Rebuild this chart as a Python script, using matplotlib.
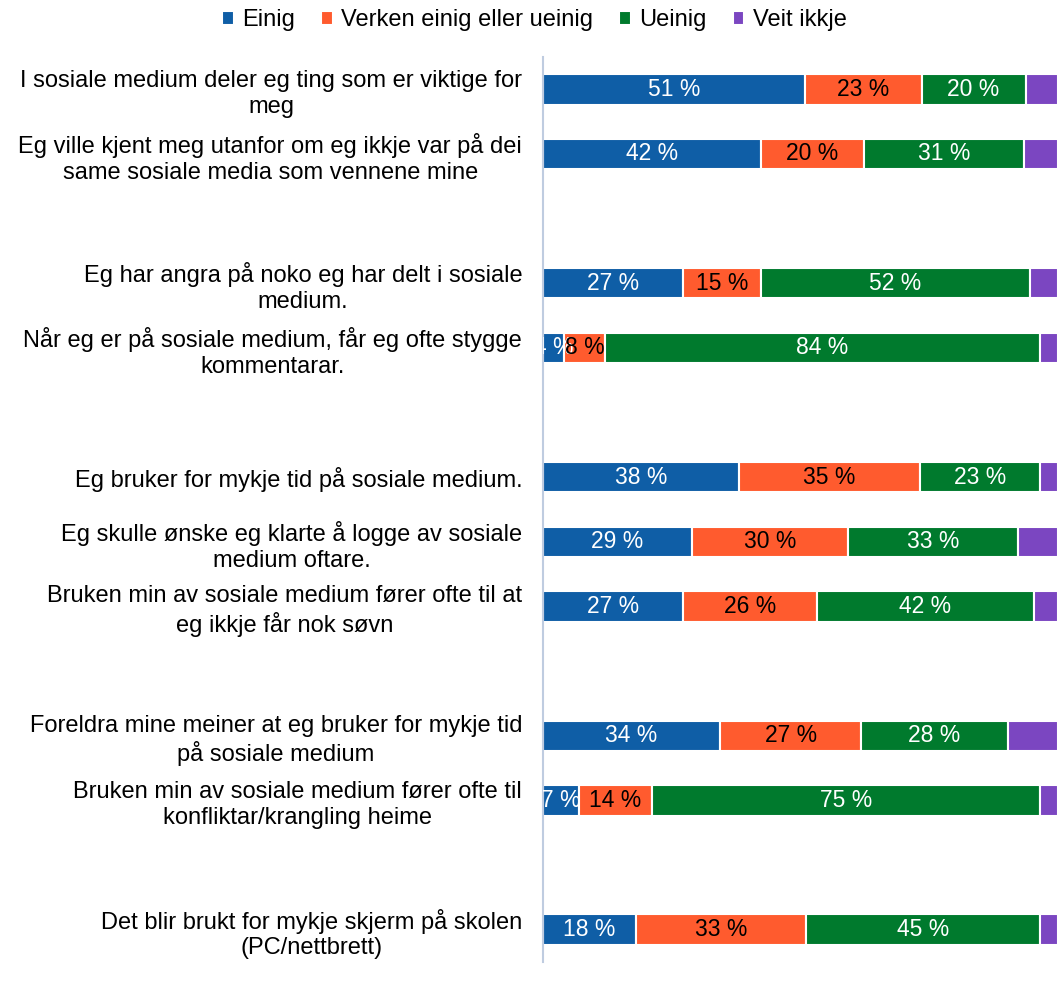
import numpy as np
import matplotlib.pyplot as plt

plt.rcParams['font.family'] = ['Liberation Sans', 'DejaVu Sans']

# Statements, top to bottom (None = empty row between groups)
statements = [
    "I sosiale medium deler eg ting som er viktige for\nmeg",
    "Eg ville kjent meg utanfor om eg ikkje var på dei\nsame sosiale media som vennene mine",
    None,
    "Eg har angra på noko eg har delt i sosiale\nmedium.",
    "Når eg er på sosiale medium, får eg ofte stygge\nkommentarar.",
    None,
    "Eg bruker for mykje tid på sosiale medium.",
    "Eg skulle ønske eg klarte å logge av sosiale\nmedium oftare.",
    "Bruken min av sosiale medium fører ofte til at\neg ikkje får nok søvn",
    None,
    "Foreldra mine meiner at eg bruker for mykje tid\npå sosiale medium",
    "Bruken min av sosiale medium fører ofte til\nkonfliktar/krangling heime",
    None,
    "Det blir brukt for mykje skjerm på skolen\n(PC/nettbrett)",
]

einig  = [50.9, 42.3, 27.2, 4.1, 38.1, 28.9, 27.2, 34.4, 7.0, 18.1]
verken = [22.6, 20.0, 15.1, 7.9, 35.1, 30.4, 26.0, 27.4, 14.2, 33.0]
ueinig = [20.2, 31.1, 52.3, 84.5, 23.3, 33.0, 42.1, 28.4, 75.3, 45.4]
veit   = [6.3, 6.6, 5.4, 3.5, 3.5, 7.7, 4.7, 9.8, 3.5, 3.5]

series = ["Einig", "Verken einig eller ueinig", "Ueinig", "Veit ikkje"]
colors = ["#0F5EA6", "#FF5B2E", "#007A2D", "#7B46C1"]
label_colors = ["white", "black", "white", None]

rows = [i for i, s in enumerate(statements) if s is not None]
labels = [s for s in statements if s is not None]

fig = plt.figure(figsize=(10.58, 9.86), dpi=100)
ax = fig.add_axes([543 / 1058, 1 - 962 / 986, 515 / 1058, 905 / 986])

left = np.zeros(len(rows))
for name, vals, col, lc in zip(series, [einig, verken, ueinig, veit], colors, label_colors):
    vals = np.array(vals, dtype=float)
    bars = ax.barh(rows, vals, left=left, height=0.47, color=col,
                   edgecolor="white", linewidth=1.5, label=name)
    if lc is not None:
        for b, v in zip(bars, vals):
            ax.text(b.get_x() + b.get_width() / 2, b.get_y() + b.get_height() / 2,
                    f"{v:.0f} %", ha="center", va="center", color=lc,
                    fontsize=16.5, clip_on=True)
    left += vals

ax.set_xlim(0, 100)
ax.set_ylim(len(statements) - 0.5, -0.5)
ax.set_yticks(rows)
ax.set_yticklabels(labels, fontsize=17, ha="right", multialignment="center",
                   linespacing=1.22)
ax.tick_params(axis="y", length=0, pad=15)
ax.set_xticks([])
for side in ["top", "right", "bottom"]:
    ax.spines[side].set_visible(False)
ax.spines["left"].set_color("#BFCCE0")
ax.spines["left"].set_linewidth(1.5)

fig.legend(loc="upper center", bbox_to_anchor=(0.505, 1.012), ncol=4, frameon=False,
           fontsize=17, handlelength=0.5, handleheight=0.5, handletextpad=0.35,
           columnspacing=1.1)

fig.savefig("out.png", dpi=100)
